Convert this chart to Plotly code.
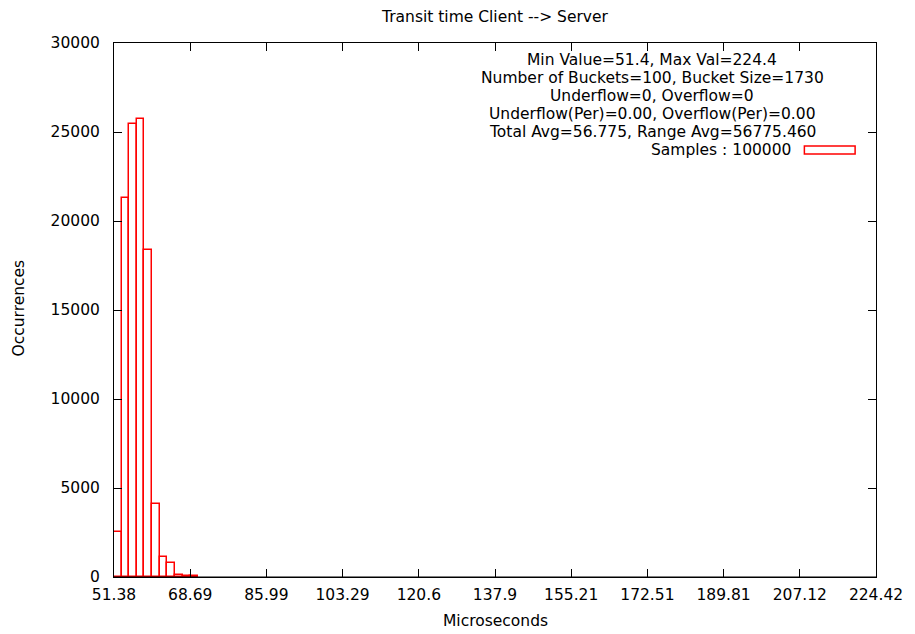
import plotly.graph_objects as go

# ---- data ----
bucket_start = 51.38
bucket_size = 1.7304
counts = [2550, 21300, 25450, 25730, 18370, 4120, 1100, 800, 120, 50, 50]
x_tick_vals = [51.38, 68.69, 85.99, 103.29, 120.6, 137.9, 155.21, 172.51, 189.81, 207.12, 224.42]
x_tick_text = ["51.38", "68.69", "85.99", "103.29", "120.6", "137.9", "155.21", "172.51", "189.81", "207.12", "224.42"]
y_tick_vals = [0, 5000, 10000, 15000, 20000, 25000, 30000]
y_tick_text = ["0", "5000", "10000", "15000", "20000", "25000", "30000"]
info_lines = [
    "Min Value=51.4, Max Val=224.4",
    "Number of Buckets=100, Bucket Size=1730",
    "Underflow=0, Overflow=0",
    "Underflow(Per)=0.00, Overflow(Per)=0.00",
    "Total Avg=56.775, Range Avg=56775.460",
]
legend_label = "Samples : 100000"

centers = [bucket_start + bucket_size * (i + 0.5) for i in range(len(counts))]

FONT = "DejaVu Sans"
FS = 15.5

fig = go.Figure()
fig.add_trace(go.Bar(
    x=centers, y=counts, width=bucket_size,
    marker=dict(color="rgba(255,255,255,0)", line=dict(color="#ff0000", width=1.5)),
    showlegend=False,
))

L, R, T, B = 114, 35, 43, 57
W, H = 915, 634
pw, ph = W - L - R, H - T - B

def px(xp):
    return (xp - L) / pw

def py(yp):
    return (H - B - yp) / ph

annotations = []
for i, line in enumerate(info_lines):
    annotations.append(dict(
        text=line, xref="paper", yref="paper", x=px(655), y=py(60 + 17.9 * i),
        xanchor="center", yanchor="middle", showarrow=False,
        font=dict(family=FONT, size=FS, color="black")))
annotations.append(dict(
    text=legend_label, xref="paper", yref="paper", x=px(797), y=py(150),
    xanchor="right", yanchor="middle", showarrow=False,
    font=dict(family=FONT, size=FS, color="black")))
annotations.append(dict(
    text="Microseconds", xref="paper", yref="paper", x=px(497), y=py(621),
    xanchor="center", yanchor="middle", showarrow=False,
    font=dict(family=FONT, size=FS, color="black")))
annotations.append(dict(
    text="Occurrences", xref="paper", yref="paper", x=px(19), y=py(308),
    xanchor="center", yanchor="middle", showarrow=False, textangle=-90,
    font=dict(family=FONT, size=FS, color="black")))
annotations.append(dict(
    text="Transit time Client --> Server", xref="paper", yref="paper", x=px(497), y=py(17),
    xanchor="center", yanchor="middle", showarrow=False,
    font=dict(family=FONT, size=FS, color="black")))

shapes = [
    dict(type="rect", xref="paper", yref="paper",
         x0=px(808), x1=px(859), y0=py(154), y1=py(146),
         line=dict(color="#ff0000", width=1.5), fillcolor="rgba(0,0,0,0)"),
    dict(type="line", xref="paper", yref="paper", x0=0, x1=1, y0=0, y1=0,
         line=dict(color="black", width=1.2)),
]

fig.update_layout(
    width=W, height=H,
    margin=dict(l=L, r=R, t=T, b=B, pad=0),
    paper_bgcolor="white", plot_bgcolor="white",
    font=dict(family=FONT, size=FS, color="black"),
    bargap=0, showlegend=False,
    annotations=annotations, shapes=shapes,
    xaxis=dict(range=[51.38, 224.42], tickvals=x_tick_vals, ticktext=x_tick_text,
               ticks="inside", ticklen=8, tickcolor="black", showline=True,
               linecolor="black", linewidth=1, mirror="ticks", showgrid=False,
               zeroline=False, ticklabelstandoff=3),
    yaxis=dict(range=[0, 30000], tickvals=y_tick_vals, ticktext=y_tick_text,
               ticks="inside", ticklen=8, tickcolor="black", showline=True,
               linecolor="black", linewidth=1, mirror="ticks", showgrid=False,
               zeroline=False, ticklabelstandoff=10),
)

fig.write_html("out.html")
